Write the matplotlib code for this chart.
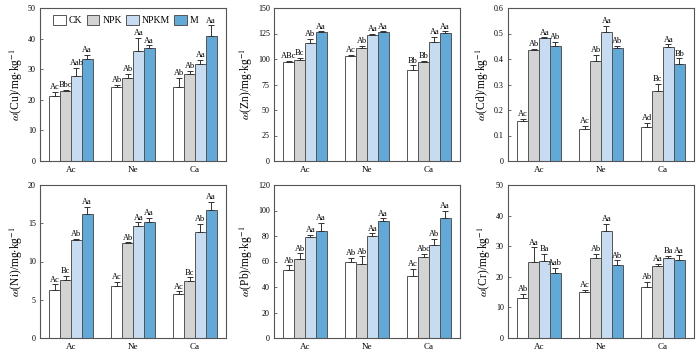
import matplotlib
matplotlib.use("Agg")
import matplotlib.pyplot as plt
import numpy as np
from matplotlib.ticker import FuncFormatter

plt.rcParams['font.family'] = ['Liberation Serif', 'DejaVu Serif']
plt.rcParams['mathtext.fontset'] = 'stix'

sites = ["Ac", "Ne", "Ca"]
treatments = ["CK", "NPK", "NPKM", "M"]
colors = ["#ffffff", "#d3d3d3", "#c7dcf1", "#62a9d8"]

# values [site][treatment], error (upper), letters
cu_val = [[21.1, 23.0, 27.7, 33.4], [24.1, 27.2, 36.1, 36.8], [24.1, 28.4, 31.7, 40.9]]
cu_err = [[1.6, 0.2, 2.8, 1.4], [0.9, 1.3, 4.1, 1.0], [3.0, 1.1, 1.3, 3.5]]
cu_lab = [["Ac", "Bbc", "Aab", "Aa"], ["Ab", "Ab", "Aa", "Aa"], ["Ab", "Ab", "Aa", "Aa"]]

zn_val = [[97.0, 99.0, 115.3, 126.4], [102.5, 110.7, 123.5, 126.0], [89.0, 97.3, 116.6, 125.8]]
zn_err = [[1.5, 2.0, 4.7, 0.6], [1.5, 2.3, 1.0, 1.0], [5.0, 1.2, 5.4, 1.2]]
zn_lab = [["ABc", "Bc", "Ab", "Aa"], ["Ac", "Ab", "Aa", "Aa"], ["Bb", "Bb", "Aa", "Aa"]]

cd_val = [[0.155, 0.436, 0.482, 0.451], [0.127, 0.394, 0.504, 0.443], [0.135, 0.276, 0.447, 0.379]]
cd_err = [[0.010, 0.004, 0.003, 0.017], [0.010, 0.023, 0.026, 0.009], [0.015, 0.027, 0.011, 0.024]]
cd_lab = [["Ac", "Ab", "Aa", "Ab"], ["Ac", "Ab", "Aa", "Ab"], ["Ad", "Bc", "Aa", "Bb"]]

ni_val = [[6.33, 7.64, 12.75, 16.16], [6.86, 12.4, 14.6, 15.1], [5.8, 7.47, 13.9, 16.7]]
ni_err = [[0.7, 0.45, 0.2, 0.95], [0.45, 0.1, 0.5, 0.6], [0.3, 0.45, 1.0, 1.1]]
ni_lab = [["Ac", "Bc", "Ab", "Aa"], ["Ac", "Ab", "Aa", "Aa"], ["Ac", "Bc", "Ab", "Aa"]]

pb_val = [[53.4, 61.6, 79.1, 83.6], [59.5, 57.9, 79.9, 92.0], [49.0, 63.9, 73.1, 94.0]]
pb_err = [[3.6, 4.9, 1.9, 6.9], [3.5, 6.1, 2.1, 2.0], [5.5, 2.1, 4.9, 6.0]]
pb_lab = [["Ab", "Ab", "Aa", "Aa"], ["Ab", "Ab", "Aa", "Aa"], ["Ac", "Abc", "Ab", "Aa"]]

cr_val = [[13.2, 24.7, 25.1, 21.3], [15.1, 26.2, 34.9, 23.7], [16.8, 23.5, 26.0, 25.5]]
cr_err = [[1.2, 4.9, 2.4, 1.7], [0.7, 1.4, 2.5, 1.7], [1.5, 0.7, 0.8, 1.5]]
cr_lab = [["Ab", "Aa", "Ba", "Aab"], ["Ac", "Ab", "Aa", "Ab"], ["Ab", "Aa", "Ba", "Aa"]]

panels = [
    ("Cu", cu_val, cu_err, cu_lab, 50, 10),
    ("Zn", zn_val, zn_err, zn_lab, 150, 25),
    ("Cd", cd_val, cd_err, cd_lab, 0.6, 0.1),
    ("Ni", ni_val, ni_err, ni_lab, 20, 5),
    ("Pb", pb_val, pb_err, pb_lab, 120, 20),
    ("Cr", cr_val, cr_err, cr_lab, 50, 10),
]

W, H = 700, 354
fig = plt.figure(figsize=(7.0, 3.54), dpi=100)
lefts = [40, 274, 508]
tops = [8, 185]
aw, ah = 186, 153
spine_c = "#555555"
bw = 0.175

for i, (name, val, err, lab, ymax, ystep) in enumerate(panels):
    r, c = divmod(i, 3)
    ax = fig.add_axes([lefts[c] / W, 1 - (tops[r] + ah) / H, aw / W, ah / H])
    val = np.array(val)
    err = np.array(err)
    x = np.arange(len(sites))
    for j in range(4):
        xs = x + (j - 1.5) * bw
        ax.bar(xs, val[:, j], bw, color=colors[j], edgecolor=spine_c, linewidth=0.7,
               label=treatments[j], zorder=2)
        ax.errorbar(xs, val[:, j], yerr=[np.zeros(3), err[:, j]], fmt='none',
                    ecolor="#333333", elinewidth=0.7, capsize=2.0, capthick=0.7, zorder=3)
        for k in range(3):
            ax.text(xs[k], val[k, j] + err[k, j] + ymax * 0.004, lab[k][j],
                    ha='center', va='bottom', fontsize=6.0, zorder=4)
    ax.set_xlim(-0.5, 2.5)
    ax.set_ylim(0, ymax)
    ax.set_yticks(np.arange(0, ymax + ystep / 2, ystep))
    ax.yaxis.set_major_formatter(FuncFormatter(lambda v, p: "%g" % round(v, 3)))
    ax.set_xticks(x)
    ax.set_xticklabels(sites)
    ax.tick_params(axis='y', direction='in', length=2.5, width=0.6, color=spine_c,
                   labelsize=5.8, pad=3)
    ax.tick_params(axis='x', length=0, labelsize=6.5, pad=3.5)
    for s in ax.spines.values():
        s.set_color(spine_c)
        s.set_linewidth(0.8)
    ax.set_ylabel(r'$\omega$(' + name + r')/mg$\cdot$kg$^{-1}$', fontsize=8.3, labelpad=2)
    if i == 0:
        ax.legend(loc='upper left', bbox_to_anchor=(0.035, 1.0), ncol=4, frameon=False,
                  fontsize=7, handlelength=1.3, handleheight=1.3, handletextpad=0.3,
                  columnspacing=0.45, borderaxespad=0.3)

fig.savefig("out.png", dpi=100)
